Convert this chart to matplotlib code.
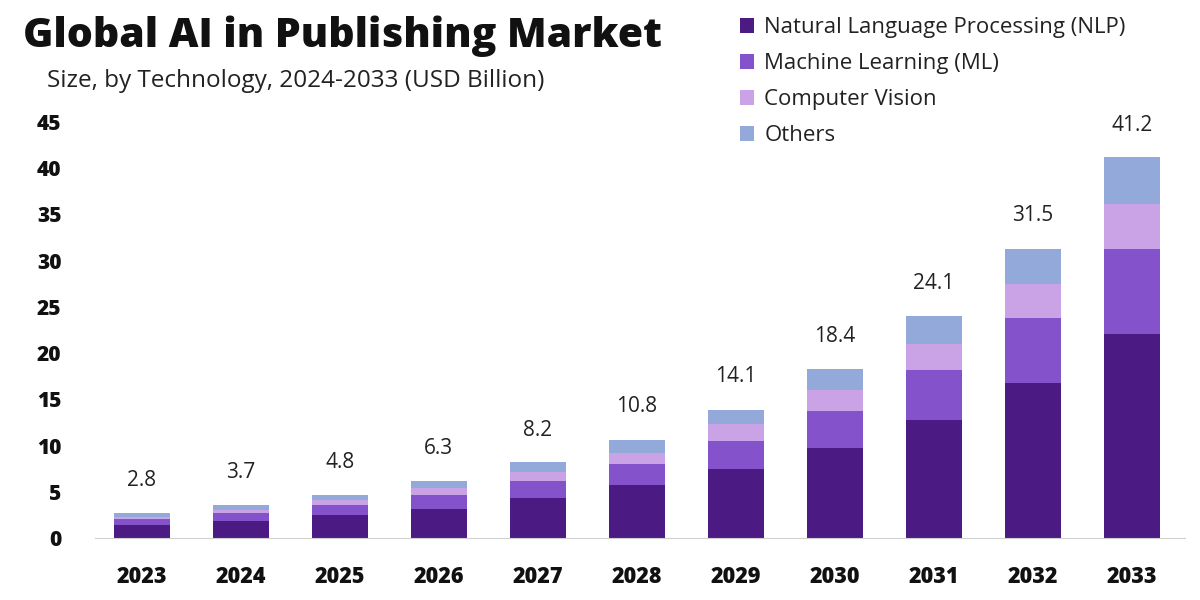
import numpy as np
import matplotlib.pyplot as plt

years = ['2023', '2024', '2025', '2026', '2027', '2028', '2029', '2030', '2031', '2032', '2033']
totals = [2.8, 3.7, 4.8, 6.3, 8.2, 10.8, 14.1, 18.4, 24.1, 31.5, 41.2]
nlp = [1.4, 1.9, 2.5, 3.2, 4.3, 5.75, 7.5, 9.8, 12.8, 16.8, 22.1]
ml = [0.7, 0.8, 1.1, 1.45, 1.9, 2.25, 3.0, 4.0, 5.4, 7.0, 9.1]
cv = [0.2, 0.4, 0.5, 0.75, 1.0, 1.25, 1.8, 2.25, 2.8, 3.7, 4.9]
others = [0.4, 0.5, 0.6, 0.8, 1.0, 1.35, 1.6, 2.25, 3.0, 3.8, 5.1]

labels = ['Natural Language Processing (NLP)', 'Machine Learning (ML)', 'Computer Vision', 'Others']
colors = ['#4b1a82', '#8452ca', '#caa3e6', '#93a9d9']

plt.rcParams['font.family'] = ['Open Sans', 'DejaVu Sans']

fig = plt.figure(figsize=(12, 6), dpi=100)
ax = fig.add_axes([0.079, 0.103, 0.9085, 0.694])

x = np.arange(len(years))
bottom = np.zeros(len(years))
handles = []
for vals, col, lab in zip([nlp, ml, cv, others], colors, labels):
    b = ax.bar(x, vals, width=0.56, bottom=bottom, color=col, label=lab)
    handles.append(b)
    bottom += np.array(vals)

for xi, t in zip(x, totals):
    ax.text(xi, t + 3.4, f'{t}', ha='center', va='center', fontsize=15, color='#222222')

ax.set_xlim(-0.475, 10.535)
ax.set_ylim(0, 45)
ax.set_yticks(range(0, 46, 5))
ax.set_xticks(x)
ax.set_xticklabels(years, fontsize=15.5, fontweight='heavy')
for lbl in ax.get_yticklabels():
    lbl.set_fontsize(15)
    lbl.set_fontweight('heavy')
ax.tick_params(axis='both', length=0, colors='#111111')
ax.tick_params(axis='x', pad=19)
ax.tick_params(axis='y', pad=24)
for s in ['top', 'right', 'left']:
    ax.spines[s].set_visible(False)
ax.spines['bottom'].set_color('#d0d0d0')

fig.text(0.019, 0.94, 'Global AI in Publishing Market', fontsize=29.5, fontweight='heavy',
         color='#111111', va='center')
fig.text(0.039, 0.865, 'Size, by Technology, 2024-2033 (USD Billion)', fontsize=17.5,
         color='#222222', va='center')

leg = fig.legend(handles=handles, labels=labels, loc='upper left', bbox_to_anchor=(0.6, 1.005),
                 frameon=False, fontsize=16, handlelength=0.65, handleheight=0.65,
                 handletextpad=0.45, labelspacing=0.68)
for t in leg.get_texts():
    t.set_color('#222222')

fig.savefig('out.png', dpi=100)
